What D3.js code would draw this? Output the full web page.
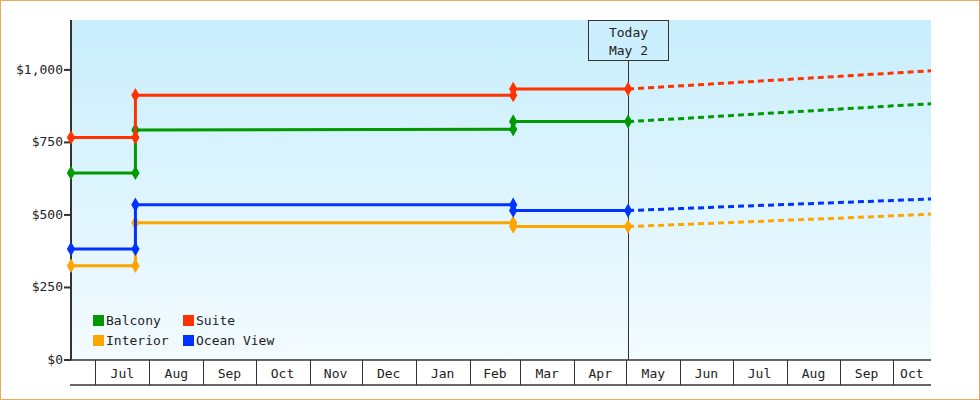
<!DOCTYPE html>
<html><head><meta charset="utf-8">
<script src="https://cdn.jsdelivr.net/npm/d3@7"></script>
<style>body{margin:0;background:#fff}svg{display:block}text{font-family:"DejaVu Sans Mono",monospace;font-size:13px;fill:#222}</style>
</head><body><svg id="chart" width="980" height="400"></svg>
<script>
const parse = d3.timeParse("%Y-%m-%d")
const dates = ["2023-06-17", "2023-07-24", "2023-07-24", "2024-02-26", "2024-02-26", "2024-05-02"]
const forecastDates = ["2024-05-02", "2024-06-01", "2024-07-01", "2024-08-01", "2024-09-01", "2024-10-01", "2024-10-23"]
const seriesNames = ["Balcony", "Suite", "Interior", "Ocean View"]
const colors = ["#009900", "#ff3300", "#ffa500", "#0033ff"]
const history = {
  "Balcony":    [645, 645, 793, 795, 822, 822],
  "Suite":      [767, 767, 913, 913, 934, 934],
  "Interior":   [325, 325, 473, 473, 460, 460],
  "Ocean View": [383, 383, 535, 535, 515, 515]
}
const forecast = {
  "Balcony":    [822, 832, 843, 854, 865, 876, 883],
  "Suite":      [934, 945, 956, 967, 978, 989, 997],
  "Interior":   [460, 467, 474, 482, 489, 497, 503],
  "Ocean View": [515, 522, 529, 536, 543, 550, 555]
}
const yTicks = [0, 250, 500, 750, 1000]
const today = "2024-05-02", todayLabel = ["Today", "May 2"]

const svg = d3.select("#chart")
const L = 71, R = 931, T = 20, B = 360
const x = d3.scaleTime().domain([parse("2023-06-17"), parse("2024-10-23")]).range([L, R])
const y = d3.scaleLinear().domain([0, 1172]).range([B, T])

// frame + background
svg.append("rect").attr("x", 0.5).attr("y", 0.5).attr("width", 979).attr("height", 399)
  .attr("fill", "#fff").attr("stroke", "#e8a860")
const defs = svg.append("defs")
const grad = defs.append("linearGradient").attr("id", "bg").attr("x1", 0).attr("y1", 0).attr("x2", 0).attr("y2", 1)
grad.append("stop").attr("offset", "0%").attr("stop-color", "#c8eefc")
grad.append("stop").attr("offset", "100%").attr("stop-color", "#f3fbff")
svg.append("rect").attr("x", L).attr("y", T).attr("width", R - L).attr("height", B - T).attr("fill", "url(#bg)")

// y axis
svg.append("line").attr("x1", L).attr("x2", L).attr("y1", T).attr("y2", B).attr("stroke", "#333").attr("stroke-width", 2)
const fmt = d3.format("$,")
yTicks.forEach(v => {
  svg.append("line").attr("x1", L - 7).attr("x2", L).attr("y1", y(v)).attr("y2", y(v)).attr("stroke", "#333").attr("stroke-width", 2)
  svg.append("text").attr("x", L - 8).attr("y", y(v) + 4).attr("text-anchor", "end").text(fmt(v))
})

// x axis month cells
const axB = 385
svg.append("line").attr("x1", L - 1).attr("x2", R).attr("y1", B).attr("y2", B).attr("stroke", "#333").attr("stroke-width", 1.5)
svg.append("line").attr("x1", L - 1).attr("x2", R).attr("y1", axB).attr("y2", axB).attr("stroke", "#333").attr("stroke-width", 1.5)
const months = d3.timeMonth.range(parse("2023-07-01"), parse("2024-10-23"))
months.forEach((m, i) => {
  const x0 = Math.round(x(m)) + 0.5
  svg.append("line").attr("x1", x0).attr("x2", x0).attr("y1", B).attr("y2", axB).attr("stroke", "#333")
  const next = i + 1 < months.length ? x(months[i + 1]) : R
  svg.append("text").attr("x", (x(m) + next) / 2).attr("y", B + 18).attr("text-anchor", "middle")
    .text(d3.timeFormat("%b")(m))
})

// today marker
const tx = Math.round(x(parse(today))) + 0.5
svg.append("line").attr("x1", tx).attr("x2", tx).attr("y1", 60).attr("y2", B).attr("stroke", "#333")
svg.append("rect").attr("x", tx - 40).attr("y", T + 0.5).attr("width", 80).attr("height", 40)
  .attr("fill", "#cbeffc").attr("stroke", "#333")
todayLabel.forEach((t, i) => svg.append("text").attr("x", tx).attr("y", 37 + i * 18).attr("text-anchor", "middle").text(t))

// series
const line = d3.line().x(d => x(d[0])).y(d => y(d[1]))
const diamond = d3.symbol().type(d3.symbolDiamond).size(60)
seriesNames.forEach((name, i) => {
  const pts = dates.map((d, j) => [parse(d), history[name][j]])
  const fpts = forecastDates.map((d, j) => [parse(d), forecast[name][j]])
  svg.append("path").attr("d", line(fpts)).attr("fill", "none").attr("stroke", colors[i])
    .attr("stroke-width", 3).attr("stroke-dasharray", "6,4").attr("stroke-dashoffset", -10)
  svg.append("path").attr("d", line(pts)).attr("fill", "none").attr("stroke", colors[i]).attr("stroke-width", 3)
  svg.selectAll(null).data(pts).enter().append("path")
    .attr("d", diamond).attr("transform", d => `translate(${x(d[0])},${y(d[1])})`).attr("fill", colors[i])
})

// legend
seriesNames.forEach((name, i) => {
  const lx = 93 + (i % 2) * 90, ly = 315 + Math.floor(i / 2) * 20
  svg.append("rect").attr("x", lx).attr("y", ly).attr("width", 11).attr("height", 11).attr("fill", colors[i])
  svg.append("text").attr("x", lx + 13).attr("y", ly + 10).text(name)
})
</script></body></html>
